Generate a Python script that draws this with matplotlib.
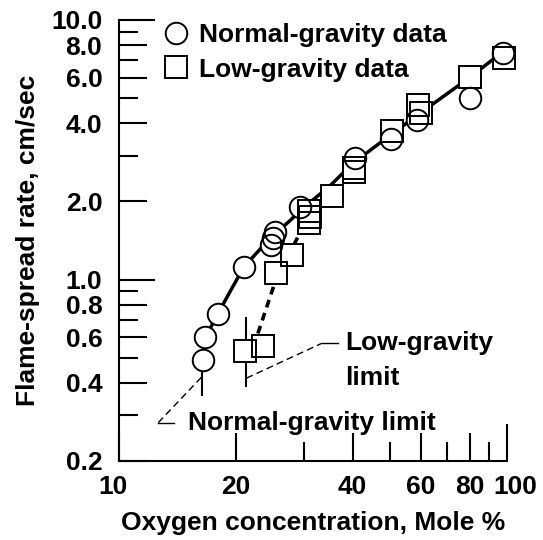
import matplotlib
matplotlib.use("Agg")
import matplotlib.pyplot as plt
import matplotlib.transforms as mtransforms

plt.rcParams['font.family'] = ['Liberation Sans', 'DejaVu Sans']
plt.rcParams['font.weight'] = 'bold'
plt.rcParams['axes.labelweight'] = 'bold'

# normal-gravity data (circles)
normal_x = [16.5, 16.7, 18.0, 21.0, 24.6, 25.0, 25.2, 29.3, 40.6, 50.1, 58.7, 80.0, 97.8]
normal_y = [0.49, 0.60, 0.74, 1.12, 1.36, 1.44, 1.53, 1.90, 2.93, 3.47, 4.12, 4.99, 7.48]

# low-gravity data (squares)
low_x = [21.1, 23.5, 25.4, 27.9, 30.8, 31.0, 30.8, 35.3, 40.3, 40.3, 50.4, 59.0, 60.0, 80.3, 98.4]
low_y = [0.53, 0.556, 1.06, 1.24, 1.84, 1.74, 1.65, 2.09, 2.68, 2.60, 3.75, 4.71, 4.37, 6.05, 7.12]

# fitted curves
fit_x = [16.5, 17.2, 18.0, 19.5, 21.0, 23.0, 25.0, 27.5, 30.0, 35.0, 40.0, 50.0, 60.0, 80.0, 97.0]
fit_y = [0.55, 0.65, 0.74, 0.92, 1.12, 1.30, 1.48, 1.68, 1.90, 2.30, 2.80, 3.60, 4.40, 6.00, 7.50]
low_fit_x = [22.8, 25.2, 28.5, 30.5]
low_fit_y = [0.62, 0.97, 1.40, 1.70]

# limit markers and leaders
normal_limit_x = [16.4, 16.4]
normal_limit_y = [0.45, 0.36]
low_limit_x = [21.2, 21.2]
low_limit_y = [0.71, 0.39]
normal_leader_x = [16.3, 12.6, 13.9]
normal_leader_y = [0.42, 0.28, 0.28]
low_leader_x = [21.3, 33.3]
low_leader_y = [0.417, 0.568]
low_leader_tail_x = [33.3, 36.7]
low_leader_tail_y = [0.568, 0.568]

x_major = [10, 20, 40, 60, 80, 100]
x_minor = [30, 50, 70, 90]
y_major = [0.2, 0.4, 0.6, 0.8, 1.0, 2.0, 4.0, 6.0, 8.0, 10.0]
y_minor = [0.3, 0.5, 0.7, 0.9, 3.0, 5.0, 7.0, 9.0]

fs = 19

fig = plt.figure(figsize=(5.43, 5.40), dpi=100)
ax = fig.add_axes([0.219, 0.1463, 0.715, 0.8167])

ax.set_xscale('log')
ax.set_yscale('log')
ax.set_xlim(10, 100)
ax.set_ylim(0.2, 10)

lw = 1.5
ax.plot(fit_x, fit_y, color='black', lw=2.5, zorder=2)
ax.plot(low_fit_x, low_fit_y, color='black', lw=2.6, ls=(0, (2.2, 1.6)), zorder=2)
ax.plot(normal_limit_x, normal_limit_y, color='black', lw=lw, zorder=1)
ax.plot(low_limit_x, low_limit_y, color='black', lw=lw, zorder=1)
ax.plot(normal_leader_x[:2], normal_leader_y[:2], color='black', lw=1.0, ls=(0, (5, 3)))
ax.plot(normal_leader_x[1:], normal_leader_y[1:], color='black', lw=1.0)
ax.plot(low_leader_x, low_leader_y, color='black', lw=1.0, ls=(0, (5, 3)))
ax.plot(low_leader_tail_x, low_leader_tail_y, color='black', lw=1.0)

# white underlay hides the lines, open outlines on top keep overlaps visible
ms = 15.5
ax.plot(normal_x, normal_y, 'o', ms=ms, mfc='white', mec='none', zorder=3, clip_on=False)
ax.plot(low_x, low_y, 's', ms=ms, mfc='white', mec='none', zorder=3, clip_on=False)
circ, = ax.plot(normal_x, normal_y, 'o', ms=ms, mfc='none', mec='black',
                mew=1.4, zorder=4, clip_on=False, label='Normal-gravity data')
sq, = ax.plot(low_x, low_y, 's', ms=ms, mfc='none', mec='black',
              mew=1.4, zorder=4, clip_on=False, label='Low-gravity data')

leg = ax.legend(handles=[circ, sq], loc='upper left', bbox_to_anchor=(0.088, 1.016),
                frameon=False, fontsize=fs, handlelength=0.9, handletextpad=0.45,
                labelspacing=0.38, borderaxespad=0)

ax.text(38.2, 0.568, 'Low-gravity', fontsize=fs, va='center', ha='left')
ax.text(38.2, 0.417, 'limit', fontsize=fs, va='center', ha='left')
ax.text(15.06, 0.28, 'Normal-gravity limit', fontsize=fs, va='center', ha='left')

for s in ['top', 'right']:
    ax.spines[s].set_visible(False)
for s in ['left', 'bottom']:
    ax.spines[s].set_linewidth(lw)

ax.set_xticks(x_major)
ax.set_xticklabels([str(v) for v in x_major])
ax.set_xticks(x_minor, minor=True)
ax.set_xticklabels([], minor=True)
ax.set_yticks(y_major)
ax.set_yticklabels(['%.1f' % v for v in y_major])
ax.set_yticks(y_minor, minor=True)
ax.set_yticklabels([], minor=True)

ax.tick_params(which='both', direction='in', width=lw, labelsize=fs)
ax.tick_params(which='major', length=20)
ax.tick_params(which='minor', length=13.5)
ax.tick_params(axis='y', pad=12)
ax.tick_params(axis='x', pad=10)

for t in ax.yaxis.get_major_ticks():
    if t.get_loc() in (1.0, 10.0):
        t.tick1line.set_markersize(26)
for t in ax.xaxis.get_major_ticks():
    if t.get_loc() == 100:
        t.tick1line.set_markersize(26.5)

xl = ax.get_xticklabels()
xl[0].set_transform(xl[0].get_transform() + mtransforms.ScaledTranslation(-0.06, 0, fig.dpi_scale_trans))
xl[-1].set_transform(xl[-1].get_transform() + mtransforms.ScaledTranslation(0.08, 0, fig.dpi_scale_trans))

ax.set_xlabel('Oxygen concentration, Mole %', fontsize=fs, labelpad=9)
ax.set_ylabel('Flame-spread rate, cm/sec', fontsize=fs, labelpad=8)

fig.savefig('out.png', dpi=100)
